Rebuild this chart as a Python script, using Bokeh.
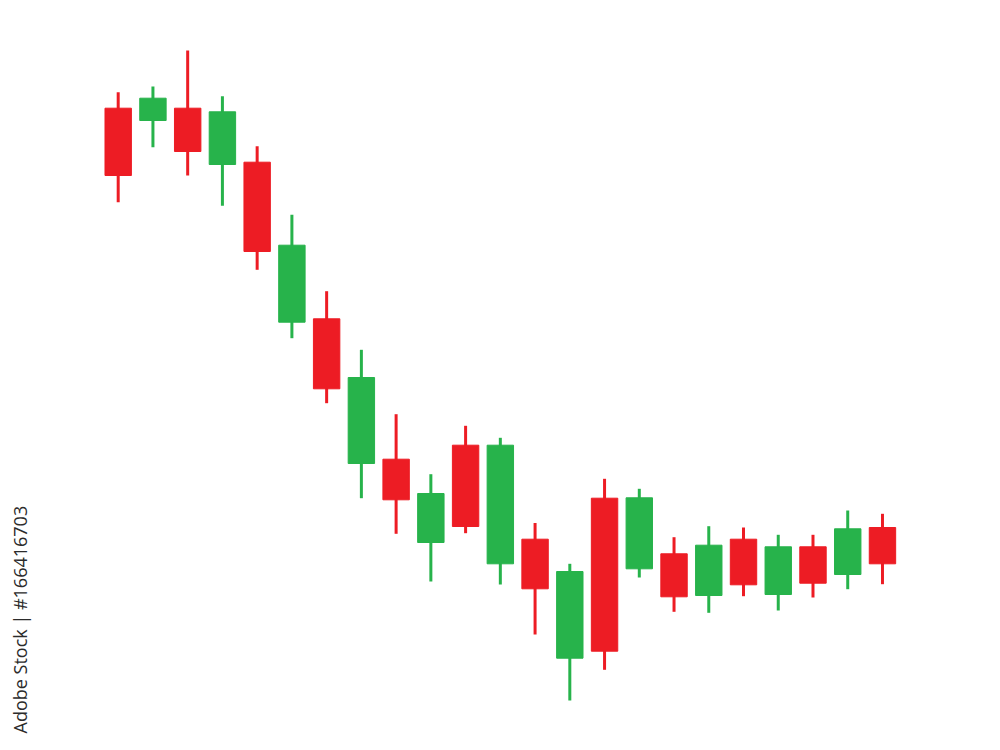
from math import pi
from bokeh.plotting import figure
from bokeh.models import ColumnDataSource, Range1d, Label
from bokeh.embed import file_html
from bokeh.resources import INLINE

# Candlestick data (arbitrary price units)
opens  = [64.23, 63.00, 64.23, 58.60, 58.83, 42.83, 43.17, 28.70, 29.13, 20.80, 30.53, 18.67,
          21.13,  9.23, 25.23, 18.17, 19.67, 15.50, 21.13, 15.60, 20.37, 17.60, 22.30]
highs  = [65.83, 66.40, 70.00, 65.43, 60.43, 53.57, 45.93, 40.07, 33.63, 27.63, 32.47, 31.27,
          22.75, 18.67, 27.17, 26.17, 21.33, 22.43, 22.30, 21.57, 21.57, 24.00, 23.67]
lows   = [54.83, 60.33, 57.50, 54.47, 48.07, 41.23, 34.73, 25.23, 21.67, 16.90, 21.73, 16.60,
          11.60,  5.00,  8.07, 17.30, 13.87, 13.77, 15.43, 14.00, 15.30, 16.13, 16.63]
closes = [57.50, 65.23, 59.90, 63.87, 49.90, 50.53, 36.17, 37.30, 25.07, 25.70, 22.40, 30.53,
          16.17, 17.90,  9.93, 25.27, 15.37, 20.53, 16.57, 20.37, 16.73, 22.17, 18.67]

RED = "#ED1C24"
GREEN = "#27B34B"

idx = list(range(len(opens)))
colors = [GREEN if c >= o else RED for o, c in zip(opens, closes)]
tops = [max(o, c) for o, c in zip(opens, closes)]
bottoms = [min(o, c) for o, c in zip(opens, closes)]

src = ColumnDataSource(dict(x=idx, open=opens, high=highs, low=lows, close=closes,
                            top=tops, bottom=bottoms, color=colors))

p = figure(width=984, height=734, output_backend="svg", toolbar_location=None,
           x_range=Range1d(-3.388, 24.937), y_range=Range1d(1.6, 75.0),
           x_axis_type=None, y_axis_type=None, min_border=0)
p.grid.visible = False
p.outline_line_color = None
p.background_fill_color = "white"
p.border_fill_color = "white"

p.segment(x0="x", y0="low", x1="x", y1="high", line_color="color", line_width=3, source=src)
p.vbar(x="x", width=0.76, top="top", bottom="bottom", fill_color="color",
       line_color="color", line_width=1, source=src)

lbl = Label(x=-2.841, y=1.7, text="Adobe Stock | #166416703", angle=pi / 2,
            text_font="Open Sans", text_font_size="18px", text_color="#2b2b2b",
            text_align="left", text_baseline="alphabetic")
p.add_layout(lbl)

open("out.html", "w").write(file_html(p, INLINE))
